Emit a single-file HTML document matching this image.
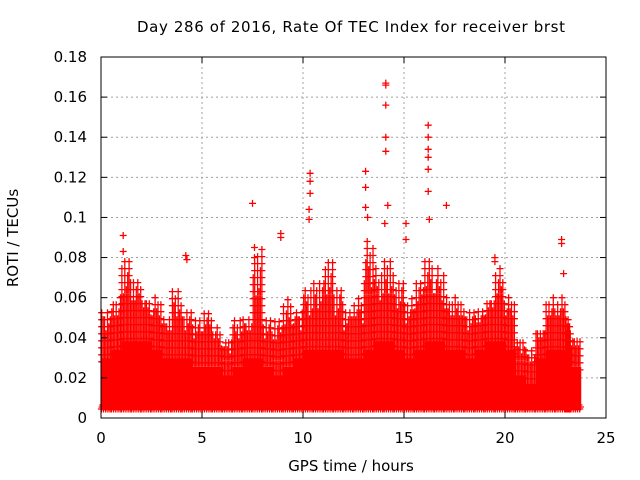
<!DOCTYPE html>
<html><head><meta charset="utf-8"><style>
body{margin:0;background:#fff}
svg{display:block;font-family:"DejaVu Sans","Liberation Sans",sans-serif}
</style></head><body>
<svg id="chart" width="640" height="480">
<text x="351" y="32" font-size="15" text-anchor="middle" textLength="428" lengthAdjust="spacing" fill="#000">Day 286 of 2016, Rate Of TEC Index for receiver brst</text>
<text x="351" y="471" font-size="15" text-anchor="middle" fill="#000">GPS time / hours</text>
<text transform="translate(18,238) rotate(-90)" font-size="15" text-anchor="middle" fill="#000">ROTI / TECUs</text>
<g id="grid"></g>
<g id="marks"></g>
<g id="axes"></g>
</svg>
<script>
const xTicks=[0,5,10,15,20,25];
const yTicks=[0,0.02,0.04,0.06,0.08,0.1,0.12,0.14,0.16,0.18];
const yTickLabels=["0","0.02","0.04","0.06","0.08","0.1","0.12","0.14","0.16","0.18"];
const binHours=[0,0.5,1,1.5,2,2.5,3,3.5,4,4.5,5,5.5,6,6.5,7,7.5,8,8.5,9,9.5,10,10.5,11,11.5,12,12.5,13,13.5,14,14.5,15,15.5,16,16.5,17,17.5,18,18.5,19,19.5,20,20.5,21,21.5,22,22.5,23,23.25];
const denseTop=[0.035,0.04,0.045,0.045,0.045,0.04,0.035,0.035,0.035,0.03,0.03,0.03,0.025,0.03,0.035,0.035,0.03,0.025,0.03,0.035,0.04,0.04,0.04,0.04,0.035,0.035,0.04,0.045,0.045,0.04,0.035,0.04,0.045,0.045,0.04,0.04,0.035,0.04,0.045,0.045,0.04,0.025,0.02,0.035,0.04,0.04,0.035,0.03];
const spikeTop=[0.055,0.06,0.08,0.07,0.06,0.06,0.05,0.065,0.055,0.05,0.055,0.045,0.04,0.05,0.05,0.085,0.05,0.05,0.06,0.055,0.065,0.07,0.08,0.065,0.055,0.06,0.09,0.075,0.08,0.07,0.06,0.07,0.08,0.075,0.06,0.06,0.055,0.055,0.06,0.075,0.06,0.04,0.035,0.045,0.06,0.06,0.05,0.04];
const outX=[7.5,10.35,10.35,10.35,10.3,10.3,13.1,13.1,13.1,14.1,14.1,14.1,14.1,14.1,14.2,14.05,16.2,16.2,16.2,16.2,16.2,16.2,16.25,17.1,15.1,15.1,1.1,1.1,4.2,4.25,8.9,8.9,22.8,22.8,22.9,7.6,7.6,19.5,19.5,13.2];
const outY=[0.107,0.122,0.118,0.112,0.104,0.099,0.123,0.115,0.105,0.167,0.166,0.156,0.14,0.133,0.106,0.097,0.146,0.14,0.134,0.13,0.124,0.113,0.099,0.106,0.097,0.089,0.091,0.083,0.081,0.079,0.092,0.09,0.089,0.087,0.072,0.085,0.08,0.08,0.078,0.1];

const L=101,R=606,T=57,B=418;
const xs=v=>L+(v/25)*(R-L);
const ys=v=>B-(v/0.18)*(B-T);
const NS="http://www.w3.org/2000/svg";
function mk(tag,parent,attrs){const e=document.createElementNS(NS,tag);for(const k in attrs)e.setAttribute(k,attrs[k]);parent.appendChild(e);return e;}
const grid=document.getElementById('grid'),marks=document.getElementById('marks'),axes=document.getElementById('axes');

xTicks.forEach((t,i)=>{
  if(i>0&&i<xTicks.length-1){const g=mk('line',grid,{x1:xs(t),x2:xs(t),y1:T,y2:B,stroke:'#a0a0a0','stroke-dasharray':'2,3'});
  
  }
  const tl=mk('text',axes,{x:xs(t),y:B+25,'font-size':15,'text-anchor':'middle'});tl.textContent=t;
  
  
  mk('line',axes,{x1:xs(t),x2:xs(t),y1:B,y2:B-6,stroke:'#000'});
  mk('line',axes,{x1:xs(t),x2:xs(t),y1:T,y2:T+6,stroke:'#000'});
});
yTicks.forEach((t,i)=>{
  if(i>0&&i<yTicks.length-1){const g=mk('line',grid,{x1:L,x2:R,y1:ys(t),y2:ys(t),stroke:'#a0a0a0','stroke-dasharray':'2,3'});
  
  }
  const tl=mk('text',axes,{x:L-14,y:ys(t)+5,'font-size':15,'text-anchor':'end'});tl.textContent=yTickLabels[i];
  
  
  mk('line',axes,{x1:L,x2:L+6,y1:ys(t),y2:ys(t),stroke:'#000'});
  mk('line',axes,{x1:R,x2:R-6,y1:ys(t),y2:ys(t),stroke:'#000'});
});

let path='';
function cross(x,y){path+=`M${(x-3.5).toFixed(1)},${y.toFixed(1)}h7M${x.toFixed(1)},${(y-3.5).toFixed(1)}v7`;}
binHours.forEach((h,i)=>{
  const w=(i<binHours.length-1?binHours[i+1]-h:0.5);
  const r=mk('rect',marks,{x:xs(h),y:ys(denseTop[i]*0.85),width:xs(h+w)-xs(h)+0.5,height:ys(0.004)-ys(denseTop[i]*0.85),fill:'#f00'});
  
  
  const n=7;
  const frac=[1,0.7,0.85,0.5,0.95,0.6,0.8];
  for(let k=0;k<n;k++){
    const hx=h+w*(k+0.5)/n;
    const top=denseTop[i]+(spikeTop[i]-denseTop[i])*frac[(k+i)%n];
    for(let v=denseTop[i]*0.8;v<=top+1e-9;v+=0.0035){cross(xs(hx),ys(v));}
  }
  for(let k=0;k<n*2;k++){cross(xs(h+w*(k+0.5)/(n*2)),ys(0.0045+0.001*(k%3)));}
});
outX.forEach((h,i)=>cross(xs(h),ys(outY[i])));
const p=mk('path',marks,{d:path,stroke:'#f00','stroke-width':1.3,fill:'none'});


const fr=mk('rect',axes,{x:L,y:T,width:R-L,height:B-T,fill:'none',stroke:'#000'});


</script>
</body></html>
